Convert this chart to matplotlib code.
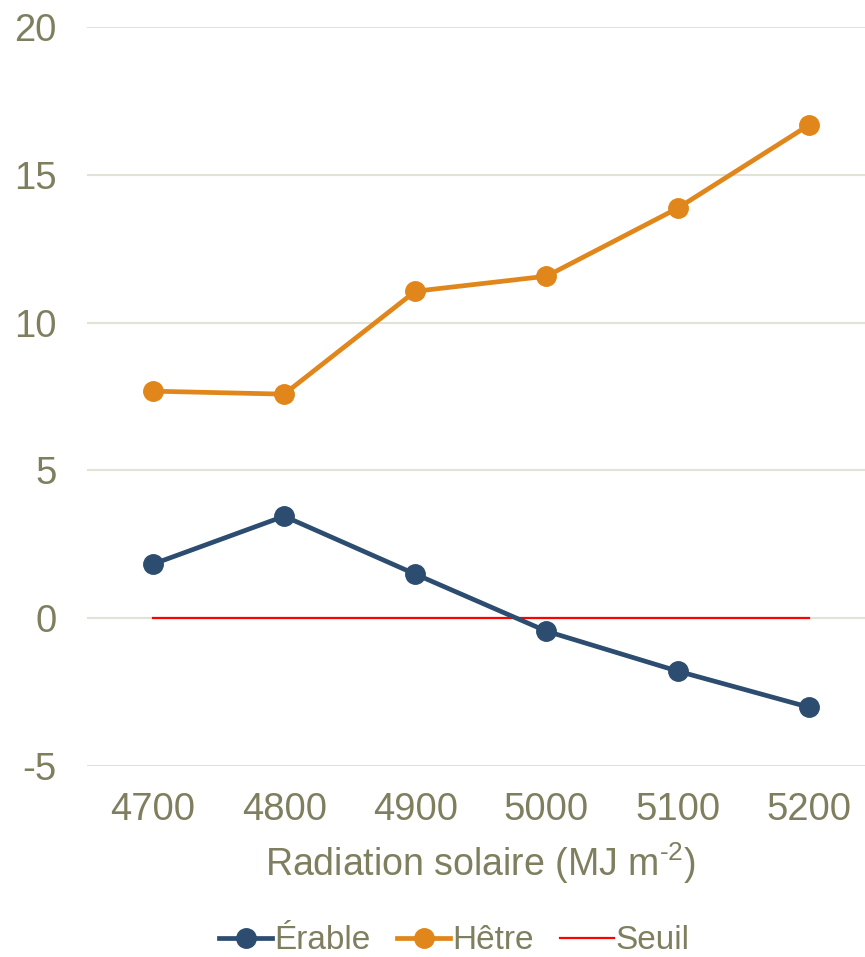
import matplotlib
matplotlib.use("Agg")
import matplotlib.pyplot as plt
from matplotlib.lines import Line2D

plt.rcParams["font.family"] = ["Liberation Sans", "DejaVu Sans"]
plt.rcParams["mathtext.fontset"] = "custom"
plt.rcParams["mathtext.rm"] = "Liberation Sans"
plt.rcParams["mathtext.default"] = "regular"
plt.rcParams["axes.unicode_minus"] = False

radiation = [4700, 4800, 4900, 5000, 5100, 5200]
erable = [1.83, 3.45, 1.49, -0.44, -1.79, -3.01]
hetre = [7.68, 7.58, 11.06, 11.57, 13.87, 16.68]
seuil = [0, 0, 0, 0, 0, 0]

text_col = "#7F7F5F"
grid_col = "#E2E2D6"
blue = "#2C4D6F"
orange = "#E0861A"

fig = plt.figure(figsize=(8.65, 9.57), dpi=100)
ax = fig.add_axes([87.4 / 865, 1 - 766 / 957, 787 / 865, 739 / 957])

x = list(range(len(radiation)))
ax.plot(x, seuil, color="#FF0000", lw=1.6, zorder=2)
ax.plot(x, erable, color=blue, lw=3.4, marker="o", ms=14, zorder=3)
ax.plot(x, hetre, color=orange, lw=3.4, marker="o", ms=14, zorder=3)

ax.set_xlim(-0.5, 5.5)
ax.set_ylim(-5, 20)
ax.set_yticks([-5, 0, 5, 10, 15, 20])
ax.set_xticks(x)
ax.set_xticklabels([str(r) for r in radiation])
ax.grid(axis="y", color=grid_col, lw=1.5)
ax.set_axisbelow(True)
for s in ax.spines.values():
    s.set_visible(False)
ax.tick_params(axis="both", length=0, labelsize=27.5, colors=text_col)
ax.tick_params(axis="x", pad=19)
ax.tick_params(axis="y", pad=22)
ax.set_xlabel(r"Radiation solaire (MJ m$^{\text{-2}}$)", fontsize=27, color=text_col, labelpad=9)

handles = [
    Line2D([], [], color=blue, lw=3.4, marker="o", ms=14),
    Line2D([], [], color=orange, lw=3.4, marker="o", ms=14),
    Line2D([], [], color="#FF0000", lw=1.6),
]
fig.legend(handles, ["Érable", "Hêtre", "Seuil"], loc="center", bbox_to_anchor=(0.525, 0.017),
           ncol=3, frameon=False, fontsize=24, labelcolor=text_col, handlelength=1.6,
           handletextpad=0.05, columnspacing=0.8)

fig.savefig("out.png", dpi=100)
